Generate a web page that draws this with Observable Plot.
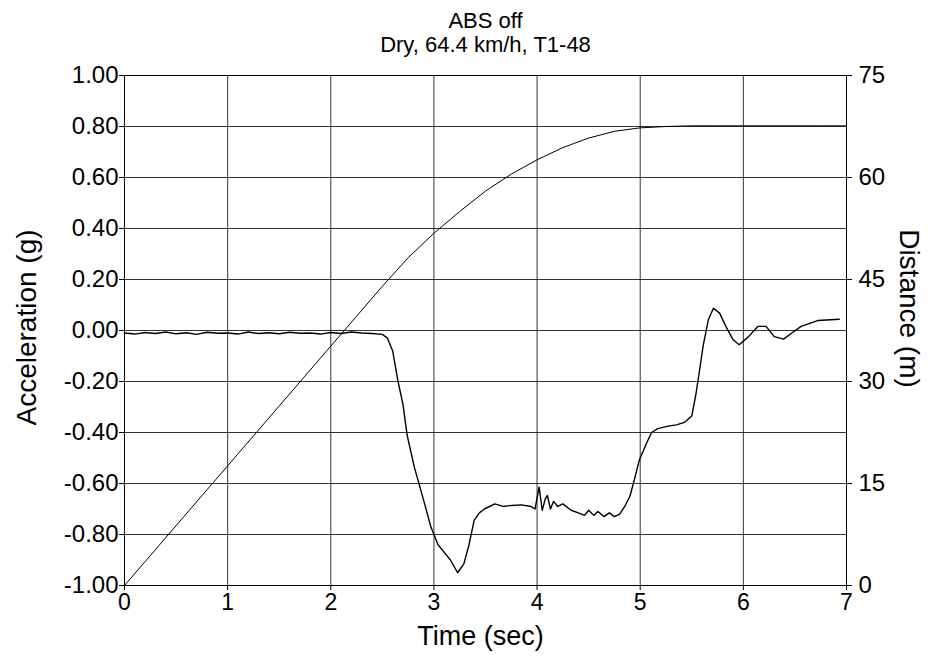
<!DOCTYPE html>
<html>
<head>
<meta charset="utf-8">
<script src="https://cdn.jsdelivr.net/npm/d3@7"></script>
<script src="https://cdn.jsdelivr.net/npm/@observablehq/plot@0.6"></script>
<style>
  html, body { margin: 0; padding: 0; background: #fff; }
  #chart { width: 928px; height: 669px; }
</style>
</head>
<body>
<div id="chart"></div>
<script>
// ---- Data ----
const titleLines = ["ABS off", "Dry, 64.4 km/h, T1-48"];
const timeTicks = [0, 1, 2, 3, 4, 5, 6, 7];
const accTicks = [-1, -0.8, -0.6, -0.4, -0.2, 0, 0.2, 0.4, 0.6, 0.8, 1];
const distTicks = [0, 15, 30, 45, 60, 75];

// Acceleration trace (g) vs time (sec)
const accT = [0.00,0.10,0.20,0.30,0.40,0.50,0.60,0.70,0.80,0.90,1.00,1.10,1.20,1.30,1.40,1.50,1.60,1.70,1.80,1.90,2.00,2.10,2.20,2.30,2.40,2.50,2.55,2.60,2.65,2.70,2.74,2.81,2.91,2.97,3.04,3.10,3.16,3.23,3.29,3.34,3.39,3.44,3.49,3.59,3.67,3.75,3.85,3.94,3.98,4.02,4.05,4.08,4.10,4.13,4.16,4.20,4.25,4.33,4.40,4.46,4.50,4.55,4.59,4.65,4.70,4.75,4.80,4.85,4.90,4.94,4.99,5.06,5.11,5.17,5.27,5.35,5.43,5.50,5.54,5.58,5.61,5.66,5.71,5.77,5.83,5.90,5.96,6.05,6.14,6.22,6.30,6.39,6.47,6.56,6.72,6.93];
const accG = [-0.010,-0.014,-0.008,-0.012,-0.006,-0.013,-0.009,-0.015,-0.007,-0.011,-0.010,-0.014,-0.006,-0.012,-0.009,-0.013,-0.007,-0.011,-0.010,-0.014,-0.008,-0.012,-0.006,-0.010,-0.012,-0.015,-0.030,-0.080,-0.196,-0.290,-0.410,-0.536,-0.680,-0.770,-0.840,-0.870,-0.900,-0.950,-0.915,-0.840,-0.745,-0.715,-0.700,-0.680,-0.690,-0.686,-0.684,-0.690,-0.700,-0.614,-0.705,-0.660,-0.647,-0.700,-0.670,-0.690,-0.680,-0.705,-0.715,-0.725,-0.705,-0.725,-0.710,-0.730,-0.715,-0.730,-0.720,-0.690,-0.650,-0.590,-0.510,-0.443,-0.400,-0.385,-0.375,-0.370,-0.360,-0.335,-0.250,-0.144,-0.060,0.042,0.087,0.068,0.016,-0.036,-0.056,-0.024,0.016,0.016,-0.024,-0.034,-0.010,0.016,0.039,0.044];

// Distance trace (m) vs time (sec)
const distT = [0,0.25,0.5,0.75,1,1.25,1.5,1.75,2,2.25,2.5,2.75,3,3.25,3.5,3.75,4,4.25,4.5,4.75,5,5.25,5.5,5.75,6,6.25,6.5,6.75,7];
const distM = [0,4.4,8.8,13.2,17.6,22.0,26.4,30.8,35.2,39.6,44.0,48.2,51.8,55.0,58.0,60.5,62.6,64.4,65.8,66.8,67.3,67.5,67.6,67.6,67.6,67.6,67.6,67.6,67.6];

// ---- Build tables ----
const accData = accT.map((t, i) => ({t, g: accG[i]}));
const distData = distT.map((t, i) => ({t, m: distM[i]}));
// Distance axis (0–75 m) shares the frame with acceleration (-1–1 g)
const distToY = d3.scaleLinear().domain([0, 75]).range([-1, 1]);
const fmtAcc = d => (Math.abs(d) < 1e-9 ? 0 : d).toFixed(2);

const font = "'Liberation Sans', Arial, Helvetica, sans-serif";

const chart = Plot.plot({
  width: 928,
  height: 669,
  marginLeft: 124,
  marginRight: 82,
  marginTop: 75,
  marginBottom: 84,
  style: {fontFamily: font, fontSize: "24px", background: "#fff", color: "#000", overflow: "visible"},
  x: {domain: [0, 7]},
  y: {domain: [-1, 1]},
  marks: [
    Plot.gridX(timeTicks, {stroke: "#000", strokeOpacity: 0.8, strokeWidth: 1}),
    Plot.gridY(accTicks, {stroke: "#000", strokeOpacity: 0.8, strokeWidth: 1}),
    Plot.frame({stroke: "#000", strokeWidth: 1}),
    Plot.axisX(timeTicks, {tickSize: 5, tickPadding: 3, tickFormat: d => String(d), label: null, fontSize: 23}),
    Plot.axisY(accTicks, {anchor: "left", tickSize: 5, tickPadding: 1, tickFormat: fmtAcc, label: null, fontSize: 24}),
    Plot.axisY(distTicks.map(distToY), {anchor: "right", tickSize: 5, tickPadding: 7, tickFormat: d => String(Math.round(distToY.invert(d))), label: null, fontSize: 24}),
    Plot.line(distData, {x: "t", y: d => distToY(d.m), stroke: "#000", strokeWidth: 1}),
    Plot.line(accData, {x: "t", y: "g", stroke: "#000", strokeWidth: 1.4}),
    Plot.text([titleLines[0]], {frameAnchor: "top", lineAnchor: "middle", dy: -55, text: d => d, fontSize: 22}),
    Plot.text([titleLines[1]], {frameAnchor: "top", lineAnchor: "middle", dy: -31, text: d => d, fontSize: 22}),
    Plot.text(["Time (sec)"], {frameAnchor: "bottom", lineAnchor: "middle", dy: 51, dx: -5, text: d => d, fontSize: 27}),
    Plot.text(["Acceleration (g)"], {frameAnchor: "left", textAnchor: "middle", lineAnchor: "middle", dx: -97, dy: -3, rotate: -90, text: d => d, fontSize: 28}),
    Plot.text(["Distance (m)"], {frameAnchor: "right", textAnchor: "middle", lineAnchor: "middle", dx: 62, dy: -22, rotate: 90, text: d => d, fontSize: 28})
  ]
});
document.getElementById("chart").appendChild(chart);
</script>
</body>
</html>
